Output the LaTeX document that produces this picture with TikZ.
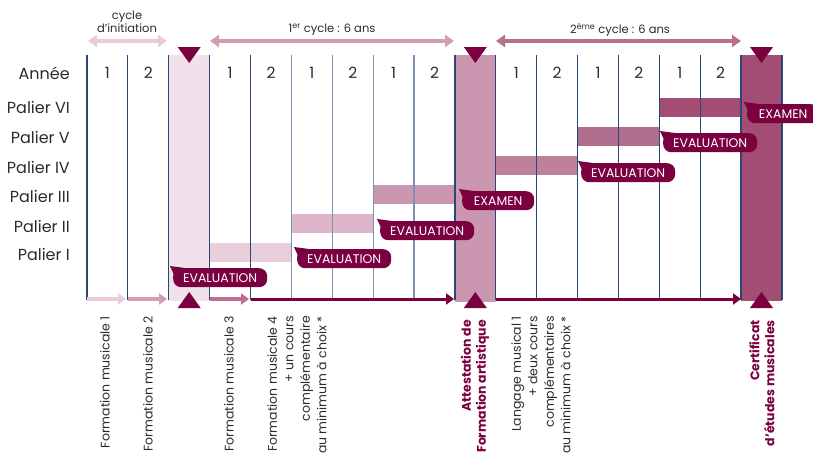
\documentclass[tikz,border=0pt]{standalone}
\usepackage{fontspec}
\setmainfont{Poppins}
\usetikzlibrary{arrows.meta}
\definecolor{maroon}{HTML}{7A0040}
\definecolor{navy}{HTML}{2A4877}
\definecolor{lnavy}{HTML}{7F91AE}
\definecolor{txt}{HTML}{2B2B2B}
\definecolor{shA}{HTML}{F1E1EA}
\definecolor{shB}{HTML}{CB97B0}
\definecolor{shC}{HTML}{A34C74}
\definecolor{bI}{HTML}{E8CEDB}
\definecolor{bII}{HTML}{DDB5C8}
\definecolor{bIII}{HTML}{CB97B0}
\definecolor{bIV}{HTML}{BE819C}
\definecolor{bV}{HTML}{B06D8D}
\definecolor{bVI}{HTML}{A34C74}
\definecolor{aA}{HTML}{EBCBDA}
\definecolor{aB}{HTML}{D29CB5}
\definecolor{aC}{HTML}{B8708F}
\definecolor{aD}{HTML}{BE7094}
\tikzset{
  vline/.style={line width=1.2pt},
  rowlab/.style={anchor=east, text=txt, inner sep=0pt, font=\fontsize{16}{16}\selectfont},
  yearlab/.style={text=txt, inner sep=0pt, font=\fontsize{15.5}{15.5}\selectfont},
  toplab/.style={text=txt, inner sep=0pt, align=center, font=\fontsize{11.5}{13.5}\selectfont},
  vlabel/.style={rotate=90, anchor=east, align=right, text=txt, inner sep=0pt, font=\fontsize{12.5}{16.5}\selectfont},
  vbold/.style={rotate=90, anchor=east, align=right, text=maroon, inner sep=0pt, font=\bfseries\fontsize{12.5}{15}\selectfont},
  bubblebox/.style={fill=maroon, text=white, rounded corners=8pt, minimum height=19pt, inner sep=0pt, anchor=north west, font=\fontsize{12.5}{12.5}\selectfont},
  toparrow/.style={line width=4pt, {Triangle[length=9pt,width=12pt]}-{Triangle[length=9pt,width=12pt]}},
  botarrow/.style={line width=4pt, -{Triangle[length=8pt,width=11pt]}},
  mainarrow/.style={line width=3pt, maroon, -{Triangle[length=8pt,width=11pt]}},
}
\newcommand\bubble[5]{%
  \node[bubblebox, minimum width=#4] (#1) at (#2,#3) {#5};
  \fill[maroon] ([shift={(-3pt,2pt)}]#1.north west) -- ([shift={(12pt,0pt)}]#1.north west) -- ([shift={(2pt,-9pt)}]#1.north west) -- cycle;
}
\begin{document}
\begin{tikzpicture}[x=1pt,y=-1pt]
\useasboundingbox (0,0) rectangle (813,455);
% shaded columns
\fill[shA] (168.8,55) rectangle (209.6,301);
\fill[shB] (454.9,55) rectangle (495.8,302);
\fill[shC] (741.1,55) rectangle (782,301);
% bars
\fill[bI] (209.6,243) rectangle (291.4,262);
\fill[bII] (291.4,214) rectangle (373.2,233);
\fill[bIII] (373.2,185) rectangle (454.9,203.5);
\fill[bIV] (495.8,156) rectangle (577.6,174.5);
\fill[bV] (577.6,127) rectangle (659.3,145.5);
\fill[bVI] (659.3,98) rectangle (741.1,117);
% vertical lines
\foreach \i in {0,...,17}{
  \pgfmathsetmacro\xx{87+40.88*\i}
  \ifnum\i>4 \ifnum\i<9 \def\lc{lnavy}\else\def\lc{navy}\fi\else\def\lc{navy}\fi
  \draw[vline,\lc] (\xx,55) -- (\xx,300);
}
% row labels
\node[rowlab] (annee) at (70,73) {Année};
\node[rowlab] (p6) at (70,107.5) {Palier VI};
\node[rowlab] (p5) at (70,137) {Palier V};
\node[rowlab] (p4) at (70,167) {Palier IV};
\node[rowlab] (p3) at (70,196.5) {Palier III};
\node[rowlab] (p2) at (70,226.5) {Palier II};
\node[rowlab] (p1) at (70,254.5) {Palier I};
% years
\foreach \i/\t in {0/1,1/2,3/1,4/2,5/1,6/2,7/1,8/2,10/1,11/2,12/1,13/2,14/1,15/2}{
  \pgfmathsetmacro\xx{87+40.88*\i+20.44}
  \node[yearlab] (y\i) at (\xx,73) {\t};
}
% top cycle arrows
\coordinate (ta1) at (88,41); \coordinate (tb1) at (167,41);
\coordinate (ta2) at (210,41); \coordinate (tb2) at (454,41);
\coordinate (ta3) at (496,41); \coordinate (tb3) at (741,41);
\draw[toparrow, aA] (ta1) -- (tb1);
\draw[toparrow, aB] (ta2) -- (tb2);
\draw[toparrow, aC] (ta3) -- (tb3);
\node[toplab] (cinit) at (127,22) {cycle\\d'initiation};
\node[toplab] (c1) at (332,30) {1\textsuperscript{er} cycle : 6 ans};
\node[toplab] (c2) at (620,30) {2\textsuperscript{ème} cycle : 6 ans};
% bottom arrows
\coordinate (ba0) at (87,299); \coordinate (bb0) at (126,299);
\coordinate (ba1) at (128,299); \coordinate (bb1) at (167,299);
\coordinate (ba3) at (210,299); \coordinate (bb3) at (249,299);
\coordinate (ba4) at (250.5,299); \coordinate (bb4) at (454,299);
\coordinate (ba10) at (495.8,299); \coordinate (bb10) at (741,299);
\draw[botarrow, aA] (ba0) -- (bb0);
\draw[botarrow, aB] (ba1) -- (bb1);
\draw[botarrow, aD] (ba3) -- (bb3);
\draw[mainarrow] (ba4) -- (bb4);
\draw[mainarrow] (ba10) -- (bb10);
% triangles
\foreach \c in {189.2,475.3,761.5}{
  \fill[maroon] (\c-11.5,47) -- (\c+11.5,47) -- (\c,63) -- cycle;
  \fill[maroon] (\c-11.5,308) -- (\c+11.5,308) -- (\c,292) -- cycle;
}
% callouts
\bubble{e0}{173}{268}{94pt}{EVALUATION}
\bubble{e1}{297}{249}{94pt}{EVALUATION}
\bubble{e2}{380}{221}{94pt}{EVALUATION}
\bubble{x3}{462}{191}{72pt}{EXAMEN}
\bubble{e4}{581}{163}{94pt}{EVALUATION}
\bubble{e5}{663}{133}{94pt}{EVALUATION}
\bubble{x6}{747}{104}{72pt}{EXAMEN}
% bottom labels
\node[vlabel] (fm1) at (105,316) {Formation musicale 1};
\node[vlabel] (fm2) at (148,316) {Formation musicale 2};
\node[vlabel] (fm3) at (229,316) {Formation musicale 3};
\node[vlabel] (fm4) at (297,316) {Formation musicale 4\\+ un cours\\complémentaire\\au minimum à choix *};
\node[vbold] (afa) at (475,320) {Attestation de\\Formation artistique};
\node[vlabel] (lm1) at (541,316) {Langage musical 1\\+ deux cours\\complémentaires\\au minimum à choix *};
\node[vbold] (cem) at (762,320) {Certificat\\d'études musicales};
\end{tikzpicture}
\end{document}
